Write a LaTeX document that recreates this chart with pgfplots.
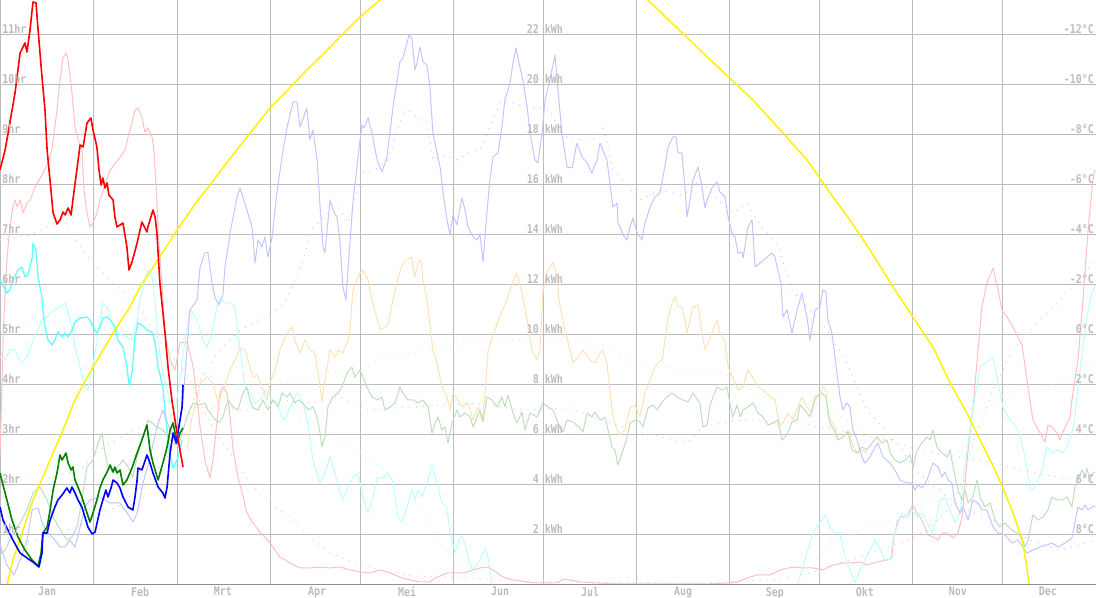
\documentclass[border=0pt]{standalone}
\usepackage{fontspec}
\usepackage{pgfplots}
\pgfplotsset{compat=1.18}
\newfontfamily\lblfont{DejaVu Sans Mono}[FakeStretch=0.83]

\definecolor{lgray}{HTML}{BCBCBC}
\definecolor{axgray}{HTML}{909090}
\definecolor{lpink}{HTML}{FFC0C0}
\definecolor{lblue}{HTML}{C4C4FF}
\definecolor{lgreen}{HTML}{BEDEBE}
\definecolor{lcyan}{HTML}{BCFFFF}
\definecolor{lpeach}{HTML}{FFE2B4}
\definecolor{bcyan}{HTML}{60FFFF}
\definecolor{dgreen}{HTML}{008000}

\tikzset{lbl/.style={font=\lblfont\bfseries\fontsize{12}{12}\selectfont, text=lgray, inner sep=0pt, yshift=1pt}}

\begin{document}
\begin{tikzpicture}
\begin{axis}[
  name=ax,
  scale only axis,
  width=1096pt, height=585pt,
  xmin=0, xmax=365.333, ymin=0, ymax=23.4,
  axis line style={draw=none},
  xtick={15.7,46.7,74.3,105.7,135.7,166.7,196.7,227.7,258.3,288.3,319.3,349.3},
  xticklabels={Jan,Feb,Mrt,Apr,Mei,Jun,Jul,Aug,Sep,Okt,Nov,Dec},
  minor xtick={31,59,90,120,151,181,212,243,273,304,334},
  xminorgrids=true,
  ytick={2,4,...,22},
  yticklabel=\empty,
  ymajorgrids=true,
  major tick length=0pt, minor tick length=0pt,
  grid style={draw=lgray, line width=1pt},
  minor grid style={draw=lgray, line width=1pt},
  xticklabel style={font=\lblfont\bfseries\fontsize{12}{12}\selectfont, text=lgray, inner sep=0pt, anchor=north, yshift=-2pt},
  every axis plot/.append style={line join=round, mark=none},
]

% frame
\draw[lgray, line width=1pt] (rel axis cs:0,0) -- (rel axis cs:0,1);
\draw[lgray, line width=1pt] (rel axis cs:1,0) -- (rel axis cs:1,1);

% ---- previous year / full-year series (light) ----
% light pink
\addplot[lpink, line width=1pt] coordinates {
(0,5.2)(0.7,8.08)(1,9.8)(1.7,11.68)(2.3,13)(3.3,14.32)(4.3,15.12)(5,15.4)(5.7,15.12)(6.7,15.4)
(7.7,14.88)(9,15.28)(10,15.4)(12,16)(14,16.4)(15.7,16.8)(17.3,17.4)(19,19)(20,20.2)(21,21.08)
(22,21.28)(22.7,21)(24,19.68)(25,18.32)(26,17.8)(27.3,17.4)(28,15.8)(29,14.88)(30,14.32)(31,14.48)
(32.3,14.88)(33.3,15.4)(35,16)(36.7,16.6)(39.3,17)(41.7,17.4)(42.7,17.92)(44,18.48)(45,19)(46,19.08)
(47.3,18.72)(48.3,18.12)(49.3,18.28)(50.7,17.92)(51.3,17.4)(52.3,15.4)(52.7,14.08)(54,12.08)(55,10.08)(56.7,9)
(58.3,8.6)(60,9.68)(62.3,9.72)(64.3,8.8)(65.7,7.4)(66.7,6.32)(68.3,5)(70,4.28)(71,5)(72.3,6.48)
(73.3,7.68)(74.3,7.92)(75.7,7.68)(76.7,6.72)(77.7,5.4)(79.3,4.32)(80.7,3.68)(82.3,2.88)(84.3,2.48)(86.7,2.12)
(90,1.68)(93.3,1.12)(96.7,0.88)(100,0.68)(103.3,0.68)(106.7,0.72)(110,0.68)(113.3,0.72)(116.7,0.6)(120,0.52)
(123.3,0.48)(126.7,0.6)(130,0.48)(133.3,0.32)(136.7,0.2)(140,0.12)(143.3,0.12)(145,0.28)(149,0.48)(154.3,0.48)
(157.7,0.6)(160,0.68)(162.3,0.72)(164.3,0.6)(167.7,0.32)(171,0.2)(175.7,0.12)(179,0.08)(185.7,0.08)(187.7,0.24)
(190,0.2)(193.3,0.12)(199,0.08)(205.7,0.04)(234.3,0.04)(243.3,0.08)(245.7,0.12)(249,0.28)(252.3,0.4)(256.7,0.4)
(260,0.6)(264.3,0.72)(267.7,0.68)(271,0.68)(274.3,0.6)(277.7,0.8)(281,0.88)(284.3,0.88)(286.7,0.92)(289,0.8)
(292.3,0.92)(295.7,1)(297.3,1.08)(297.7,1.68)(299,2.48)(300,2.72)(302.3,2.72)(303.3,3)(304.3,3.2)(305.7,2.88)
(306.7,2.72)(307.7,2.48)(309.3,2)(311,1.92)(312.7,1.8)(314,2.08)(315.7,2.08)(317.7,1.88)(319.3,2.08)(320.7,2.72)
(321.7,4.08)(322.7,5.4)(324.3,7)(326,9.4)(327.3,11.12)(329,12.08)(331,12.68)(332.7,11.8)(334,11)(335.7,10.72)
(337.7,10.32)(339.3,9.92)(340.7,9.6)(342.3,8.2)(343.3,7.4)(344.3,6.6)(346.7,6.08)(348.3,5.72)(349.3,6.4)(350.7,6.32)
(352.3,6.08)(353.3,5.8)(354.3,6.12)(355.7,6.48)(356.7,6.72)(357.3,7.4)(359.3,9)(361,11.4)(362.7,14.2)(364.3,16.2)(365,16.6)
};
% light cyan (part 1)
\addplot[lcyan, line width=1pt] coordinates {
(0,9.12)(1.7,9)(3.3,9.4)(5,9.4)(6,9.12)(7.3,8.88)(9,9.12)(10.7,9.68)(12.3,10.08)(14,10.6)
(15.7,10.72)(17.7,11)(20,11.12)(21.7,11.28)(22.7,10.88)(24,10.32)(25,9.52)(26.7,8.72)(28.3,7.92)(29.3,7.8)
(30.7,8.6)(32.3,9.68)(33.3,10.6)(34.3,11.28)(35.7,11.12)(37.3,10.48)(39,10.08)(40.7,10)(42.3,9.92)(44,9.8)
(45.7,10.6)(46.7,11.4)(47.7,11.92)(49.3,12.6)(50.7,12.32)(51.7,11.4)(52.7,9.8)(54,8.72)(55,8.08)(56.7,7.4)
(58.3,7)(60,8.2)(61.7,9.8)(63.3,11)(65.7,10.6)(67.7,9.8)(69,9.52)(70.7,10.08)(72.3,11.12)(73.3,11.52)
(75,11.28)(76.7,11.28)(78.3,11.12)(79.3,10.08)(80.7,8.88)(81.7,7.92)(83.3,7.68)(85,7.28)(86.7,7.4)(88.3,7.8)
(90,7.52)(92.3,7.28)(94,6.72)(95,6.6)(96.7,7.12)(99,7.68)(101,7.28)(102.7,6.4)(104.3,5)(106.7,4.08)
(108.3,4.48)(110,5.12)(111.7,4.48)(113.3,3.68)(114.3,3.4)(116,3.92)(117.7,4.32)(119.3,4.48)(121,3.52)(122.7,2.88)
(124.3,3.52)(125.7,4.28)(127.7,4.28)(129.3,4.48)(131,4.08)(132.7,2.72)(134,2.48)(135.7,3.12)(137.3,3.8)(138.3,3.4)
(139.3,3.8)(140.7,3.52)(142.3,4.08)(144,4.8)(145.7,4.08)(147.3,3.28)(149,3.08)(150,2.08)(151.7,1.28)(153.3,1.92)
(154.3,1.92)(155.7,1.28)(157.3,0.6)(159,0.8)(160,1)(161.7,1.48)(162.7,1.12)(164,0.08)(165,-0.6)
};
% light cyan (part 2)
\addplot[lcyan, line width=1pt] coordinates {
(265,-0.6)(266,0.08)(267.7,0.72)(269.3,1.4)(271,2.08)(273.3,2.48)(275,2.8)(276.7,2.32)(278.3,2.08)(280,2.08)
(281.7,1.12)(283.3,0.6)(285,0.08)(286.7,0.6)(288.3,1)(290,1.4)(291.7,1.8)(293.3,1.4)(295,1)(296.7,1)
(297.7,1.8)(299,2.32)(300.7,2.88)(302.3,2.72)(304,3)(305.7,2.72)(307.3,2.88)(309,2.48)(310.7,2.08)(311.7,2.48)
(313.3,3.4)(315,3.48)(316.7,3)(318.3,2.48)(320,2.88)(321,4.08)(322.7,5.68)(324.3,7)(326.7,8.72)(329,8.92)
(331,9.12)(332.7,8.08)(334.3,7.12)(336,6.72)(337.7,6.48)(339.3,6.2)(340.7,5.68)(342.3,4.72)(343.3,3.92)(344.3,3.8)
(345.7,4.08)(347.3,4.6)(349,5.52)(350.7,5.28)(352.3,5.4)(354,5.28)(355.7,5.52)(357.3,6.08)(358.3,6.72)(360,8.6)
(361.7,10.2)(363.3,11.4)(365,12)
};
% light peach
\addplot[lpeach, line width=1pt] coordinates {
(62.3,5.4)(64,6.72)(65.7,7.4)(66.7,8.08)(69,8.32)(71,8.08)(72.7,7.28)(74.3,7.8)(76.7,8.6)(78.3,9)
(80,9.48)(81.7,9.4)(83.3,8.72)(84.3,8.32)(85.7,8.4)(87.3,7.92)(89,7.4)(90,8.08)(91.7,8.6)(93.3,9.4)
(95.7,10.08)(97.3,10.32)(98.3,9.8)(100,9.28)(101.7,9.8)(103.3,9.4)(105,9.28)(106,8.48)(107.3,7.4)(108.3,8.2)
(110,9.4)(111.7,9.12)(112.7,9.4)(114.3,9.28)(116,9.8)(116.7,10.32)(117.7,11.8)(120,12.48)(121,12.6)(122.7,12.2)
(123.3,11.8)(124,11.4)(126.7,10.2)(129.3,10.4)(131,11.4)(132.7,12.32)(134.3,12.88)(136.7,13.08)(137.3,13.12)(137.7,12.72)
(138.3,12.32)(139.3,12.88)(140.3,13)(141,12.2)(142.3,11.4)(144.3,9.4)(145.7,8.88)(147.3,7.92)(149,7.52)(150,7)
(151,7.68)(152.7,7.4)(154.3,7.12)(156,7.28)(157.7,6.6)(159.3,7.12)(160.7,6.6)(161.7,7.68)(162.7,9.4)(166.7,10.8)
(169,11.4)(170,11.8)(172.3,12.48)(174,11.68)(175.7,10.6)(177.3,9.4)(179,9)(180,9.4)(181,11.8)(182.7,12.6)
(184.3,12.92)(185.7,12.32)(186.3,11.4)(188.3,10.2)(190,9.4)(191,8.88)(192.7,9.12)(194.3,9.4)(196.7,9)(198.3,8.88)
(200,9.28)(201,9.4)(202.3,8.88)(203.3,7.8)(204.3,6.72)(205.7,6.2)(206.7,6)(208.3,6.2)(210,7.08)(211.7,7.2)
(213.3,6.72)(215,7.68)(216.7,8.2)(218.3,8.72)(219.3,8.88)(220.7,9)(221.7,9.8)(222.7,10.72)(224,11.28)(225,11.52)
(226,11.12)(227.3,11.12)(228.3,10.6)(229,10.08)(230,10.6)(231,11.12)(232.7,11.2)(234,10.08)(235,9.4)(236,9.68)
(237.3,10.08)(239,10.6)(240,10.08)(241.7,9.68)(242.7,8.72)(244.3,8.28)(246,7.8)(247.7,7.92)(249.3,8.6)(251,8.28)
(252.7,7.92)(254.3,7.8)(256.7,7.52)(258.3,7.4)(260,6.32)(261,6.48)(262.7,6.88)(264.3,6.6)(266,7.12)(267.3,7.52)
(269,7.12)(270.7,6.88)(271.7,7.4)(273.3,7.68)(274.3,7.92)(275.3,7.8)(276,6.72)(277.7,6.48)(279.3,5.8)(281,5.92)
(282.7,6.2)(284,5.68)(285.7,5.28)(287.3,5.4)(289,5.28)
};
% light green
\addplot[lgreen, line width=1pt] coordinates {
(0,1.2)(1.7,1.4)(3.3,1.8)(6.7,2.48)(9,3)(11,3.68)(13.3,3.92)(15.7,3.4)(17.7,2.72)(20.7,2.08)
(22.3,1.8)(24,1.92)(25.7,2.32)(27.3,3.4)(29,4.72)(31,5)(32.7,5.68)(34,6.08)(35,5.28)(36,4.72)
(37.7,4.48)(39.3,4.72)(41,5)(42.7,4.72)(44.3,4.32)(46,5.28)(47.7,5.92)(49.3,6.6)(50.7,6.48)(52.3,6.32)
(54.3,6.2)(56.7,5.8)(58.3,5.6)(60,5.8)(62.3,6.72)(64.3,7.28)(66.7,7.2)(68.3,7.28)(69.3,7)(71,6.72)
(72.7,6.48)(74.3,6.72)(76,7.4)(77.7,7.12)(79.3,7)(81,7.68)(82.3,7.92)(83.3,7.4)(84.3,7.08)(86,7)
(87.7,7.4)(89.3,7)(91,7.4)(92.7,7.12)(94,7.68)(95.7,7.52)(96.7,7.68)(98.3,7.28)(99.3,7.4)(101,7.28)
(102.7,7)(104.3,7.12)(105.7,6.72)(106.7,6.08)(107.3,5.52)(108.3,5.92)(109.3,7.12)(111,7.52)(112.7,7.68)(114,7.92)
(115.7,8.48)(117.3,8.72)(118.3,8.32)(120,8.6)(121,8.32)(122.3,7.92)(124,7.52)(125.7,7.4)(127.3,7.52)(128.3,7)
(130,7.12)(131.7,7.28)(133.3,7.92)(134.3,7.68)(136,7.4)(137.7,7.4)(139.3,7.28)(141,7.4)(142.7,7.12)(144,6.08)
(145,6.48)(146,6.72)(147.3,6.2)(148.3,6.32)(149.3,5.68)(150.7,6.48)(152.3,7)(153.3,6.72)(155,6.88)(156.7,6.72)
(157.7,6.32)(159,6.72)(160,7)(161,6.52)(162.3,7.52)(164,7.4)(165.7,7.12)(167.3,7.52)(168.3,7.12)(169.3,7.6)
(171,6.88)(172.3,6.48)(174,6.92)(175,6.2)(176.7,6.88)(179,6.72)(181,7.28)(182.7,7.12)(184.3,7)(186,6.48)
(187.7,6.12)(189,6.6)(191,6.52)(193.3,6.28)(194.3,6.12)(195.7,6.88)(197.3,6.72)(198.3,6.92)(200,6.6)(201.7,6.72)
(202.7,6.2)(204,5.52)(205,5.4)(206,4.8)(207.7,5.4)(209,5.88)(210,6.48)(211.7,6.6)(213.3,6.52)(214.3,6.32)
(216,7.08)(217.7,7.2)(219,7)(220.7,7.32)(222.3,7.52)(224,7.68)(225.7,7.52)(227.7,7.4)(229.3,7.32)(231,7.68)
(233.3,7.28)(234.3,6.32)(235.7,6.4)(236.7,7.2)(237.7,7.52)(239,7.92)(240.7,7.8)(242.3,7.92)(243.3,7.28)(244.3,6.72)
(245.7,7.2)(246.7,6.72)(247.7,7)(249.3,7.12)(251,7.28)(252.7,6.88)(254.3,6.72)(256,6.4)(257.7,6.48)(259.3,6.6)
(260.7,5.8)(262.3,6)(264,6.52)(265.7,6.6)(266.7,7.2)(268.3,7)(270,6.72)(271.7,7.52)(274,7.68)(275.3,7.52)
(276.7,6.48)(278.3,6.12)(279.3,5.8)(281,5.92)(282.7,6.12)(284,5.4)(285.7,5.28)(287.3,5.52)(289,5.4)(290.7,5.68)
(292.3,5.92)(294,5.68)(295.7,5.8)(296.7,5.28)(298.3,5)(300,4.88)(301.7,5)(303.3,5.2)(304.3,4.72)(305.7,5.4)
(307.3,5.68)(309,5.92)(310,5.8)(311,6.2)(312.3,5.52)(314,5.28)(315.7,5.12)(316.7,5.4)(317.7,4.72)(319.3,3.8)
(320.7,3.4)(321.7,3.8)(322.7,3.28)(324.3,3.52)(325.7,4.2)(326.7,3.52)(328.3,3.12)(330,3.28)(331.7,2.6)(333.3,2.32)
(335,2.48)(337.3,2.2)(339,2.08)(340.7,1.88)(341.7,1.52)(342.7,1.8)(344.3,2.8)(346,2.6)(347.7,2.72)(349.3,3)
(350.7,3.52)(352.3,3.4)(354,3.4)(355.7,3.52)(357.3,3.12)(358.3,3.92)(359.3,4.2)(360.7,4.6)(361.7,4.32)(362.3,4.68)
(363.3,4.2)(364.3,4.48)(365,4.52)
};
% lavender
\addplot[lblue, line width=1pt] coordinates {
(0,1.6)(2.3,0.8)(4.7,0.4)(6.7,1)(9,1.8)(10.7,3)(12.7,3.08)(14.3,2.4)(16.7,2)(18.3,1.8)
(20,1.52)(21.7,1.52)(23.3,1.8)(25,1.52)(26.7,2.32)(28.3,3.12)(30,3.4)(33.3,3.52)(36.7,3.28)(40,3.28)
(43.3,2.72)(44.3,2.52)(45.7,2.88)(47.7,4.08)(50,5.08)(52.3,6.32)(54.3,7)(56.7,6.2)(59,5.8)(61,7.4)
(62.3,9.4)(63.3,11)(65.7,11.4)(66.7,12.72)(68.3,13.28)(69.3,13.32)(70.7,12.08)(71.7,11.48)(73,11.2)(74.3,11.6)
(75,12.72)(76.7,14.08)(79,15.52)(80,15.88)(82.3,15)(84,14.32)(85,12.88)(86,13.8)(87.3,13.52)(88.3,13.92)
(89.3,13.12)(90.7,13.92)(92.3,15.68)(94,17.12)(95.7,18.32)(97.7,19.32)(99,19.32)(100,18.32)(102.3,19.08)(103.3,17.8)
(104.3,18.2)(105.7,17)(106.7,15.12)(107.7,13.52)(108.3,13.28)(110,15.4)(111,15)(112.3,14.72)(113.3,13.8)(114.3,11.92)
(115.3,11.4)(116.7,13.8)(117.7,15.4)(120,17.8)(120.7,18.4)(121.3,18.28)(122.7,18.68)(124,18.08)(125.7,17)(127.3,16.52)
(129,17.12)(131,19.12)(133.3,20.92)(134.3,21.08)(135.7,21.68)
(136.3,22)(137.3,21.88)(138.3,20.6)(139,20.88)(140,21.52)(141,20.92)(142.3,20.8)(143.3,19.92)(144.3,18.08)(145.7,17.28)
(146.7,16.72)(147.7,15.68)(149,14.6)(150,14)(151,14.8)(152.3,14.4)(154,15.48)(155,15)(156,14.32)(157.7,13.92)
(159,13.8)(160,14)(160.7,13.28)(161,12.92)(162.3,14.88)(163.3,16.2)(164.3,17.12)(166,17.28)(167.3,18.32)(168.3,19.4)
(170,20.08)(171,20.88)(172,21.48)(173.3,20.72)(174.3,20.2)(175.7,19.12)(176.7,18.08)(178.3,17)(179.3,16.88)(180.7,18.08)
(181.7,19.4)(183.3,20.2)(185,21.2)(186,19.8)(187.3,18.08)(189,16.72)(190.7,16.68)(192.3,17.68)(194,17.12)(195.7,16.88)
(197.3,16.48)(199,17)(200,17.68)(202.3,17)(203.3,16.08)(204.3,15.12)(205.7,15.28)(206,14.48)(206.7,14.32)(207.7,14)
(209,13.8)(210,14.32)(211,14.68)(212.3,14.12)(214,13.8)(215,14.48)(216.7,15.12)(218.3,15.52)(220,15.68)(221,16.32)
(222.7,17.52)(224.3,17.92)(225.3,17.92)(226,17.28)(227.3,17.28)(228.3,15.92)(229,14.72)(230,15.4)(231,16.2)(232.7,16.72)
(234,15.92)(235,15.08)(236,15.52)(237.3,15.88)(239,16.12)(240,15.72)(241.7,15.52)(242.7,14.72)(244,14.08)(245,13.92)
(246,13.28)(247.3,13.32)(247.7,13.08)(249.3,14.32)(250.7,14.6)(251.7,12.72)(253.3,12.88)(255.7,13.12)(257.3,13.28)(258.3,13.12)
(259.3,12.6)(260.3,12.08)(261,10.72)(262.3,11)(264,10.08)(265.7,11)(267.3,11.68)(269,10.72)(270,9.8)(271.7,11)
(273.3,11.12)(274.3,11.8)(275.3,11.72)(276,10.6)(277.3,10.08)(278.3,9.12)(280,7.52)(281,7)(282.3,7.28)(283.3,7.12)
(284.3,6.2)(285.7,5.8)(287.3,5.12)(288.3,4.88)(290,5.12)(291.7,5.52)(292.7,5.68)(294.3,5.12)(296.7,4.88)(298.3,4.6)
(300,4.2)(302.3,4.08)(304,4.08)(305,3.8)(306,4)(307.3,3.88)(309,4.2)(311,4.88)(312.7,4.72)(314,4.32)
(315,4.52)(316,4.2)(317.3,4.08)(318.3,3.28)(320,2.88)(321,3.12)(322.7,2.6)(324.3,3.4)(326,3.28)(327.3,3)
(329,3)(331,2.32)(332.7,2.08)(335,2)(337.3,1.68)(339.3,1.8)(342.3,1.28)(344.3,1.4)(346.7,1.52)(349,1.6)
(350.7,1.68)(352.7,1.52)(355,1.68)(357.3,1.88)(358.3,2.48)(359.3,3.12)(360.7,3)(361.7,3.2)(362.7,3)(364,3.12)(365,3.16)
};

% ---- averages (dotted) ----
\addplot[lblue, line width=1pt, dash pattern=on 1pt off 6pt] coordinates {
(0,1.6)(13.3,1.8)(26.7,2.4)(40,3.2)(50,4.2)(60,5.8)(66.7,8.2)(73.3,9.4)(80,10.2)(86.7,10.6)
(94.3,11.2)(97.7,12)(100,12.6)(104,14.2)(109,14.88)(112.7,15.12)(116,14.48)(119,15.68)(121,16.48)(125,16.6)(129.3,17)(132.3,18.08)(135,19.12)(139,18.68)
(142.3,18.52)(144.3,17)(148.3,17.2)(152.3,17)(156.7,17.32)(160,17.4)(163.3,18.32)(166.7,19.32)(171,19.28)(176.7,19.12)
(183.3,19)(186.7,18.12)(191,17.8)(199,17.88)(201,18.4)(204.3,16.6)(209,16)(213.3,15.4)(220,15.8)(227.7,15.6)
(233.3,16.2)(239.3,15.4)(244.3,14.88)(249,15.28)(253.3,14.4)(259,13.68)(264,11.8)(269,11.12)(275.7,10.2)(282.3,8.88)
(289,7)(295.7,6.08)(300,5.52)(304.3,4.72)(310,4.08)(315.7,3.52)(322.3,3)(329,2.72)(335.7,2.32)(343.3,1.8)
(353.3,1.4)(362.3,1.68)(365,1.8)
};
\addplot[lpink, line width=1pt, dash pattern=on 1pt off 6pt] coordinates {
(0,13.8)(10,14)(21,14.6)(30,13)(37.7,12.08)(46.7,11)(55.7,9.4)(63.3,8.2)(70,6.48)(76.7,5.28)
(83.3,4.08)(90,3.28)(96.7,2.72)(103.3,1.92)(110,1.28)(117.7,0.92)(126.7,0.6)(137.7,0.36)(149,0.32)(167.7,0.2)
(190,0.12)(234.3,0.08)(256.7,0.2)(266.7,0.4)(273.3,0.6)(280,0.88)(286.7,1.12)(293.3,1.4)(300,1.68)(309,2.2)
(313.3,2.72)(317.7,3.28)(321,4.08)(324.3,5.68)(331,7.8)(337.7,9.4)(346.7,10.6)(356.7,11.8)(365,13)
};
\addplot[lgreen, line width=1pt, dash pattern=on 1pt off 6pt] coordinates {
(0,4.2)(13.3,4.2)(26.7,4.6)(33.3,5.4)(42.3,6.08)(52.3,6.6)(64.3,7.12)(82.3,7)(93.3,7.4)(105.7,7.28)
(113.3,7.52)(122.3,7)(137.7,7.12)(156.7,7.28)(175.7,7)(190,7.08)(203.3,6.48)(214.3,6.08)(229,5.68)(234.3,6.32)
(245.7,6.6)(263.3,6.52)(279,6.2)(295.7,5.8)(311,5.28)(326.7,5)(340,4.6)(357.7,4.2)(365,4.12)
};
\addplot[lcyan, line width=1pt, dash pattern=on 1pt off 6pt] coordinates {
(0,10.2)(20,10.6)(40,10.2)(60,9)(71,8.32)(82.3,7.92)(96.7,7)(110,6.08)(122.3,5.12)(137.7,3.8)
(147.7,1.52)(156.7,0.6)(166.7,-0.6)(263.3,-0.6)(275.7,1.6)(286.7,2.2)(303.3,2.72)(315.7,4.08)(324.3,6.2)(331,7.28)
(337.7,7.8)(350,7.8)(365,9)
};
\addplot[lpeach, line width=1pt, dash pattern=on 1pt off 6pt] coordinates {
(63.3,6.6)(76.7,7.4)(90,8)(100,8.2)(113.3,8.6)(121,8.6)(126.7,9)(137.7,9.28)(150,9.6)(163.3,9.8)
(176.7,9.8)(190,9.8)(204.3,9.52)(211,8.72)(222.3,8.72)(233.3,8.48)(240,8.48)(245.7,8.2)(255.7,7.4)(270,7.4)
(282.3,6.6)(286.7,6.12)(297.7,5.8)
};

% ---- yellow curve ----
\addplot[yellow, line width=1.5pt] coordinates {
(2.3,0)(4.3,1)(7.7,2.2)(11,3.4)(14.3,4.32)(17.7,5.28)(21,6.2)(25,7.4)(31,8.72)(37.7,10.08)
(43.3,11.12)(46.7,11.92)(50,12.52)(59,14.2)(66,15.4)(70,16)(75,16.8)(82.3,17.92)(90,19.08)(96.7,19.9)
(102.3,20.6)(108.3,21.3)(113.3,21.92)(120,22.72)(126.7,23.4)(150,25)(171.7,25.4)(193.3,25)(216,23.4)(233.3,21.4)
(251,19.4)(261,18.08)(269,17)(277.7,15.52)(283.3,14.6)(290,13.4)(297.7,11.92)(304.3,10.72)(311,9.52)(316.7,8.08)
(322.3,6.88)(326.7,5.8)(331,4.76)(334.3,3.88)(337.7,2.88)(340.7,1.8)(342.3,0.72)(343,0)
};

% ---- current year (bright) ----
\addplot[bcyan, line width=1.3pt] coordinates {
(0,12.2)(1,12)(2.3,11.68)(3.3,11.8)(4.3,12.2)(6,12.6)(7.3,12.72)(8.3,12.32)(9.3,12.4)(10.7,13.08)
(11,13.68)(12,13.4)(12.7,12.32)(14,11.52)(14.3,11)(15,10.32)(16,9.8)(17.3,9.6)(18.3,9.8)(19.3,10.12)
(20.7,9.92)(21.7,10.08)(22.7,9.92)(24,10.2)(25,10.52)(26.7,10.68)(29,10.72)(30,10.6)(31,10.32)(32.3,10.08)
(33.3,10.32)(34.3,10.68)(35.7,10.72)(36.7,10.6)(38.3,10.32)(39.3,9.8)(41,9.52)(42.3,8.72)(43,8)(44,8.48)
(45,9.92)(46,10.48)(47.3,10.4)(49,10.2)(50.7,10.12)(51.7,9.68)(52.7,8.72)(54.3,7.92)(55.3,6.6)(56.7,5.2)
(57.7,4.68)(59.3,5.08)(60.7,5.8)
};
\addplot[dgreen, line width=1.6pt] coordinates {
(0,4.48)(1,4)(2.3,3.4)(4,2.6)(6,1.92)(8.3,1.4)(10.7,1)(12.7,0.76)(13.7,1.28)(14.3,2.08)
(15.7,2.32)(16.7,3)(17.7,3.8)(19,4.48)(20,5.2)(20.7,5)(22,5.28)(22.7,4.88)(23.7,4.6)(24.3,4.72)
(25,4.2)(26,3.92)(27.3,3.52)(29,2.88)(30,2.52)(31,2.88)(32.3,3.4)(33.3,3.88)(34.3,4.2)(35.7,4.52)
(36.7,4.8)(37.7,4.52)(38.3,4.72)(39,4.48)(40,4.6)(41,4)(42.3,4.2)(44,4.68)(45.7,5.28)(47.3,5.8)
(49,6.4)(50,5.4)(51,4.88)(52.7,4.2)(54.3,4.88)(55.7,5.52)(56.7,6.2)(57.7,6.48)(59,5.68)(60,6.08)(61,6.28)
};
\addplot[blue, line width=1.6pt] coordinates {
(0,3.12)(1,2.6)(2.3,2.28)(4.3,1.8)(6.7,1.28)(9,1.08)(11,0.92)(13,0.72)(14,1.28)(14.3,2.08)
(15.7,2.08)(16.7,2.6)(18.3,3.12)(19.3,3.4)(20.7,3.6)(22.3,3.88)(23.3,3.68)(24,3.92)(25,3.68)(26,3.4)
(27.3,3.12)(28.3,2.72)(29.3,2.32)(30.7,2.04)(31.7,2.12)(33.3,3)(34.3,3.4)(35.3,3.8)(36,3.52)(37,3.88)
(37.7,4.2)(39,4.08)(40,3.88)(41,3.52)(42.7,3.12)(44.3,3)(45,3.52)(45.7,4.2)(46,4.68)(47.3,4.6)
(49,5.2)(50,4.88)(51,4.48)(52.7,3.92)(54.3,3.68)(55,3.48)(55.7,3.92)(56.7,5.28)(57.7,6.08)(58.7,5.68)
(59.3,6.08)(60.7,7.12)(61,8)
};
\addplot[red, line width=1.6pt] coordinates {
(0,16.6)(1.7,17.4)(2.7,18.08)(5,19.68)(6.7,21.28)(8.3,21.68)(9,21.32)(10,22.2)(11,23.32)(12,23.28)
(12.7,22.2)(14,20.32)(15,19)(15.7,17.4)(17.3,15.4)(17.7,14.88)(19,14.44)(20,14.6)(21,14.92)(21.7,14.8)
(22.7,15.08)(23.7,14.8)(24.3,15.4)(26.7,17.6)(27.7,17.52)(29,18.48)(30.3,18.68)(31,18.2)(32.3,17.52)(33,16.6)
(33.7,16)(34.3,16.28)(35,15.88)(35.7,16.08)(36.3,15.6)(37.7,15.4)(38.3,14.72)(39,14.32)(41,14.48)(42.3,13.52)
(43,12.6)(44,12.92)(45.7,13.68)(47.3,14.52)(49,14.12)(49.3,14.32)(51,15)(51.7,14.72)(52.3,14.08)(53.3,12.08)
(55,10.08)(56,8.72)(57.3,7.4)(59,6.08)(60,5.4)(61,4.72)
};

% bottom axis line
\draw[axgray, line width=1pt] (rel axis cs:0,0) -- (rel axis cs:1,0);

% ---- scale labels ----
\node[lbl, anchor=south west] at (axis cs:0.7,22) {11hr};
\node[lbl, anchor=south west] at (axis cs:0.7,20) {10hr};
\node[lbl, anchor=south west] at (axis cs:0.7,18) {9hr};
\node[lbl, anchor=south west] at (axis cs:0.7,16) {8hr};
\node[lbl, anchor=south west] at (axis cs:0.7,14) {7hr};
\node[lbl, anchor=south west] at (axis cs:0.7,12) {6hr};
\node[lbl, anchor=south west] at (axis cs:0.7,10) {5hr};
\node[lbl, anchor=south west] at (axis cs:0.7,8) {4hr};
\node[lbl, anchor=south west] at (axis cs:0.7,6) {3hr};
\node[lbl, anchor=south west] at (axis cs:0.7,4) {2hr};
\node[lbl, anchor=south west] at (axis cs:0.7,2) {1hr};

\node[lbl, anchor=south east] at (axis cs:187.7,22) {22 kWh};
\node[lbl, anchor=south east] at (axis cs:187.7,20) {20 kWh};
\node[lbl, anchor=south east] at (axis cs:187.7,18) {18 kWh};
\node[lbl, anchor=south east] at (axis cs:187.7,16) {16 kWh};
\node[lbl, anchor=south east] at (axis cs:187.7,14) {14 kWh};
\node[lbl, anchor=south east] at (axis cs:187.7,12) {12 kWh};
\node[lbl, anchor=south east] at (axis cs:187.7,10) {10 kWh};
\node[lbl, anchor=south east] at (axis cs:187.7,8) {8 kWh};
\node[lbl, anchor=south east] at (axis cs:187.7,6) {6 kWh};
\node[lbl, anchor=south east] at (axis cs:187.7,4) {4 kWh};
\node[lbl, anchor=south east] at (axis cs:187.7,2) {2 kWh};

\node[lbl, anchor=south east] at (axis cs:364.7,22) {-12°C};
\node[lbl, anchor=south east] at (axis cs:364.7,20) {-10°C};
\node[lbl, anchor=south east] at (axis cs:364.7,18) {-8°C};
\node[lbl, anchor=south east] at (axis cs:364.7,16) {-6°C};
\node[lbl, anchor=south east] at (axis cs:364.7,14) {-4°C};
\node[lbl, anchor=south east] at (axis cs:364.7,12) {-2°C};
\node[lbl, anchor=south east] at (axis cs:364.7,10) {0°C};
\node[lbl, anchor=south east] at (axis cs:364.7,8) {2°C};
\node[lbl, anchor=south east] at (axis cs:364.7,6) {4°C};
\node[lbl, anchor=south east] at (axis cs:364.7,4) {6°C};
\node[lbl, anchor=south east] at (axis cs:364.7,2) {8°C};
\end{axis}
\pgfresetboundingbox
\path[use as bounding box] (ax.south west) ++(0,-13pt) rectangle (ax.north east);
\end{tikzpicture}
\end{document}
